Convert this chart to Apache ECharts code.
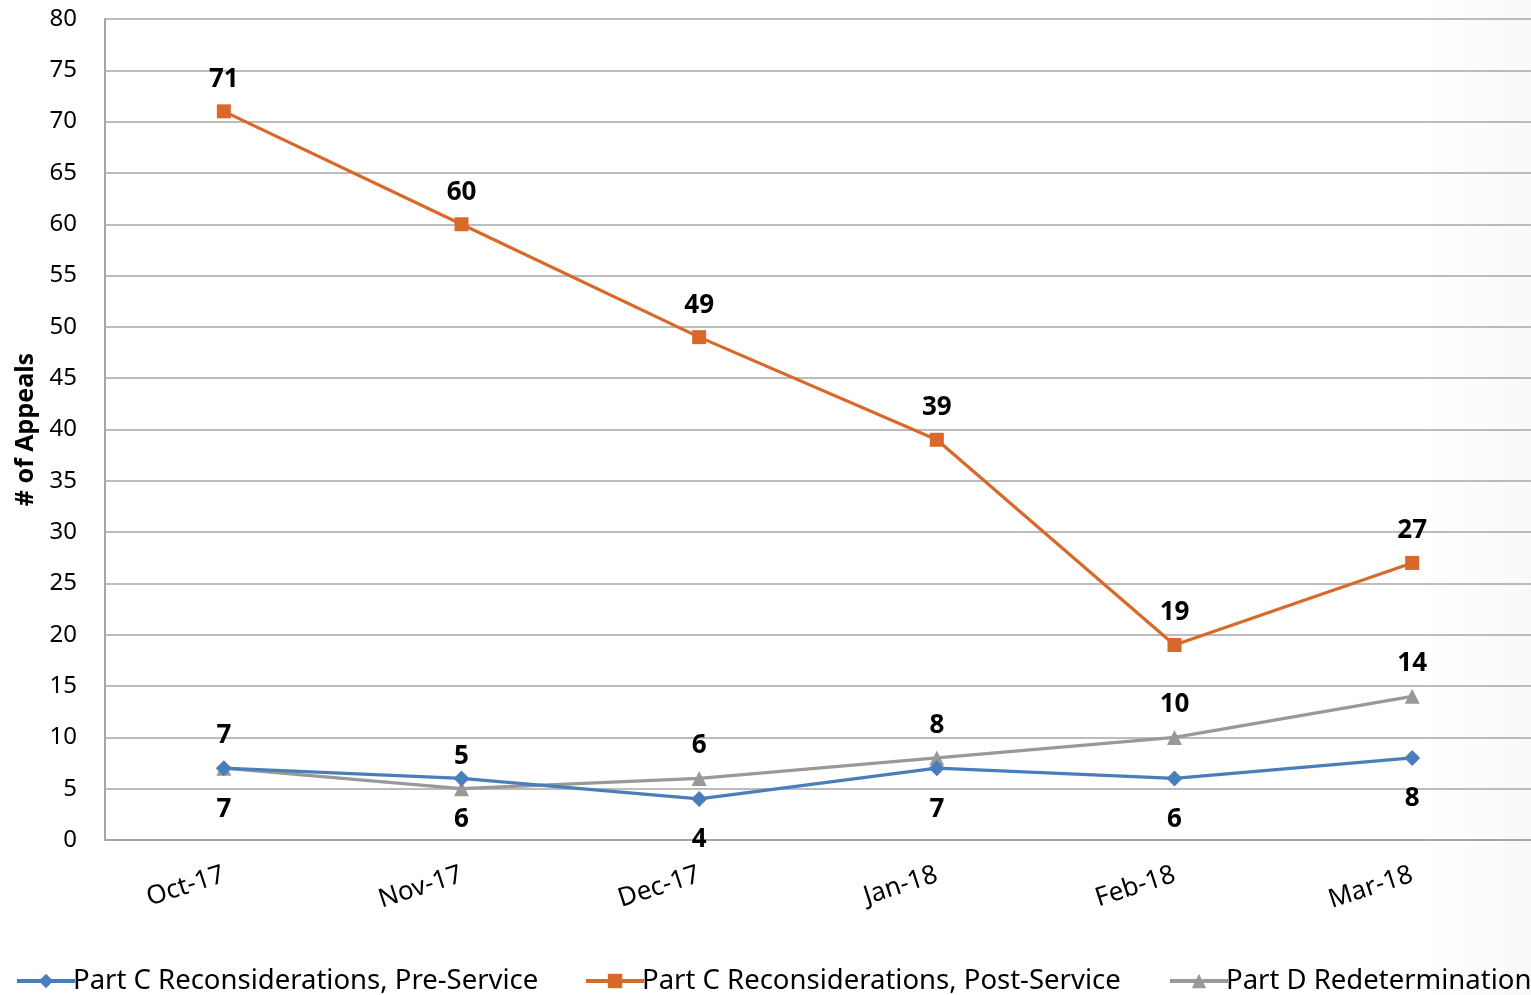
<!DOCTYPE html>
<html>
<head>
<meta charset="utf-8">
<script src="https://cdn.jsdelivr.net/npm/echarts@6/dist/echarts.min.js"></script>
<style>
html,body{margin:0;padding:0;background:#fff;}
#chart{width:1531px;height:995px;}
</style>
</head>
<body>
<div id="chart"></div>
<script>
const categories = ['Oct-17', 'Nov-17', 'Dec-17', 'Jan-18', 'Feb-18', 'Mar-18'];
const preService = [7, 6, 4, 7, 6, 8];
const postService = [71, 60, 49, 39, 19, 27];
const partD = [7, 5, 6, 8, 10, 14];
const seriesNames = ['Part C Reconsiderations, Pre-Service', 'Part C Reconsiderations, Post-Service', 'Part D Redeterminations'];

const FONT = '"Noto Sans", "Open Sans", sans-serif';
const colors = ['#4A7EBB', '#D9692B', '#999999'];

const chart = echarts.init(document.getElementById('chart'));
const labelStyle = { show: true, fontFamily: FONT, fontWeight: 'bold', fontSize: 26, color: '#000', distance: 12 };

function legendFor(i, left) {
  return {
    left: left, top: 962, orient: 'horizontal',
    data: [seriesNames[i]],
    itemWidth: 58, itemHeight: 18, itemGap: 0,
    lineStyle: { width: 4 },
    textStyle: { fontFamily: FONT, fontSize: 27.5, color: '#000', padding: [0, 0, 0, -7] }
  };
}

chart.setOption({
  animation: false,
  color: colors,
  grid: { left: 105, right: 0, top: 19, bottom: 155, containLabel: false },
  legend: [legendFor(0, 10), legendFor(1, 579), legendFor(2, 1163)],
  graphic: [{
    type: 'rect', silent: true, z: -10,
    shape: { x: 1420, y: 0, width: 111, height: 995 },
    style: {
      fill: new echarts.graphic.LinearGradient(0, 0, 1, 0, [
        { offset: 0, color: 'rgba(0,0,0,0)' },
        { offset: 1, color: 'rgba(0,0,0,0.025)' }
      ])
    }
  }],
  xAxis: {
    type: 'category', data: categories, boundaryGap: true,
    axisLine: { show: true, lineStyle: { color: '#A6A6A6', width: 2 } },
    axisTick: { show: false },
    axisLabel: { rotate: 18, margin: 34, fontFamily: FONT, fontSize: 26, color: '#000' }
  },
  yAxis: {
    type: 'value', min: 0, max: 80, interval: 5,
    name: '# of Appeals', nameLocation: 'middle', nameGap: 66, nameRotate: 90,
    nameTextStyle: { fontFamily: FONT, fontWeight: 'bold', fontSize: 25, color: '#000' },
    axisLine: { show: true, lineStyle: { color: '#A6A6A6', width: 2 } },
    axisTick: { show: false },
    axisLabel: { margin: 28, fontFamily: FONT, fontSize: 24, color: '#000' },
    splitLine: { show: true, lineStyle: { color: '#A6A6A6', width: 1.5 } }
  },
  series: [
    {
      name: seriesNames[0], type: 'line', data: preService,
      symbol: 'diamond', symbolSize: 16,
      lineStyle: { width: 3.2, color: colors[0] }, itemStyle: { color: colors[0] },
      label: Object.assign({}, labelStyle, { position: 'bottom', distance: 20 }), z: 3
    },
    {
      name: seriesNames[1], type: 'line', data: postService,
      symbol: 'rect', symbolSize: 14,
      lineStyle: { width: 3.2, color: colors[1] }, itemStyle: { color: colors[1] },
      label: Object.assign({}, labelStyle, { position: 'top' }), z: 3
    },
    {
      name: seriesNames[2], type: 'line', data: partD,
      symbol: 'triangle', symbolSize: 15,
      lineStyle: { width: 3.2, color: colors[2] }, itemStyle: { color: colors[2] },
      label: Object.assign({}, labelStyle, { position: 'top' }), z: 2
    }
  ]
});
</script>
</body>
</html>
